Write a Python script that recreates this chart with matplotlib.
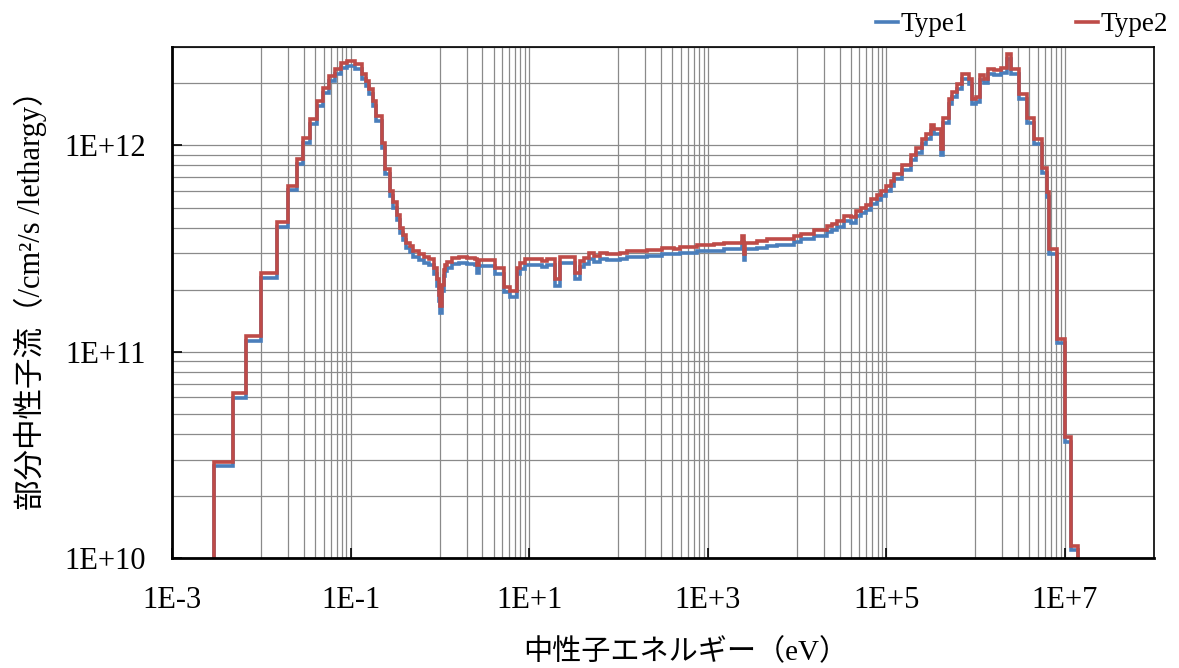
import matplotlib
matplotlib.use("Agg")
import matplotlib.pyplot as plt
from matplotlib.ticker import FixedLocator, FixedFormatter, NullFormatter

plt.rcParams['font.family'] = ['Liberation Serif', 'Noto Sans CJK JP']

# energy group boundaries (eV)
energy_edges = [
    2.0e-3, 2.96e-3, 4.87e-3, 6.76e-3, 1.0e-2, 1.49e-2, 2.0e-2, 2.5e-2, 2.96e-2, 3.52e-2,
    4.26e-2, 4.97e-2, 5.80e-2, 6.72e-2, 7.84e-2, 9.09e-2, 0.1126, 0.1339, 0.1496, 0.1604,
    0.1806, 0.1936, 0.2243, 0.2462, 0.278, 0.298, 0.330, 0.360, 0.389, 0.420,
    0.466, 0.507, 0.577, 0.657, 0.747, 0.850, 0.928, 0.972, 1.01, 1.064,
    1.106, 1.15, 1.21, 1.367, 1.62, 2.01, 2.49, 2.63, 2.77, 4.18,
    5.18, 6.05, 7.31, 7.97, 9.07, 13.95, 15.9, 19.3, 22.4, 32.9,
    36.8, 40.8, 46.5, 52.9, 62.8, 74.7, 105, 125, 210, 309,
    417, 496, 762, 1171, 1515, 2437, 2540, 2654, 3588, 4645,
    6015, 9231, 1.098e4, 1.547e4, 2.186e4, 2.487e4, 2.83e4, 3.357e4, 3.99e4, 4.54e4,
    5.16e4, 5.88e4, 6.69e4, 7.95e4, 8.65e4, 9.85e4, 1.12e5, 1.22e5, 1.515e5, 1.877e5,
    2.136e5, 2.54e5, 2.765e5, 3.146e5, 3.43e5, 4.07e5, 4.37e5, 5.05e5, 5.51e5, 6.27e5,
    7.13e5, 8.46e5, 9.23e5, 1.005e6, 1.123e6, 1.245e6, 1.38e6, 1.612e6, 1.916e6, 2.28e6,
    2.48e6, 3.07e6, 3.82e6, 4.53e6, 5.62e6, 6.28e6, 6.67e6, 8.28e6, 1.0e7, 1.168e7,
    1.41e7, 2.0e7,
]

# flux per lethargy (/cm2/s/lethargy)
type1 = [
    1e9, 2.78e10, 5.96e10, 1.13e11, 2.28e11, 4.03e11, 6.05e11, 8.15e11, 1.023e12, 1.265e12,
    1.551e12, 1.80e12, 2.05e12, 2.23e12, 2.38e12, 2.43e12, 2.34e12, 2.09e12, 1.94e12, 1.77e12,
    1.551e12, 1.312e12, 9.75e11, 7.29e11, 5.67e11, 5.00e11, 4.37e11, 3.76e11, 3.48e11, 3.18e11,
    3.05e11, 2.89e11, 2.78e11, 2.70e11, 2.62e11, 2.38e11, 2.09e11, 1.77e11, 1.54e11, 1.98e11,
    2.34e11, 2.47e11, 2.56e11, 2.67e11, 2.70e11, 2.67e11, 2.62e11, 2.41e11, 2.59e11, 2.38e11,
    1.94e11, 1.835e11, 2.38e11, 2.52e11, 2.62e11, 2.57e11, 2.62e11, 2.09e11, 2.70e11, 2.25e11,
    2.57e11, 2.67e11, 2.82e11, 2.73e11, 2.82e11, 2.79e11, 2.82e11, 2.87e11, 2.90e11, 2.98e11,
    2.96e11, 3.01e11, 3.07e11, 3.09e11, 3.15e11, 3.39e11, 2.78e11, 3.15e11, 3.20e11, 3.27e11,
    3.30e11, 3.39e11, 3.50e11, 3.62e11, 3.80e11, 3.87e11, 4.01e11, 4.29e11, 4.22e11, 4.54e11,
    4.71e11, 4.89e11, 5.21e11, 5.41e11, 5.67e11, 6.00e11, 6.35e11, 6.84e11, 7.56e11, 8.46e11,
    9.22e11, 1.011e12, 1.069e12, 1.18e12, 1.131e12, 8.94e11, 1.289e12, 1.594e12, 1.716e12, 1.87e12,
    2.09e12, 1.98e12, 1.58e12, 1.617e12, 2.07e12, 2.00e12, 2.23e12, 2.19e12, 2.25e12, 2.615e12,
    2.23e12, 1.673e12, 1.289e12, 1.011e12, 7.37e11, 5.61e11, 2.96e11, 1.10e11, 3.67e10, 1.094e10,
    1e9,
]

type2 = [
    1e9, 2.93e10, 6.30e10, 1.196e11, 2.41e11, 4.26e11, 6.39e11, 8.62e11, 1.081e12, 1.337e12,
    1.641e12, 1.906e12, 2.17e12, 2.357e12, 2.52e12, 2.566e12, 2.47e12, 2.21e12, 2.05e12, 1.87e12,
    1.641e12, 1.388e12, 1.031e12, 7.71e11, 6.00e11, 5.29e11, 4.62e11, 4.00e11, 3.70e11, 3.38e11,
    3.25e11, 3.07e11, 2.96e11, 2.88e11, 2.80e11, 2.55e11, 2.24e11, 1.89e11, 1.66e11, 2.11e11,
    2.50e11, 2.64e11, 2.73e11, 2.86e11, 2.88e11, 2.85e11, 2.80e11, 2.62e11, 2.77e11, 2.55e11,
    2.07e11, 1.96e11, 2.55e11, 2.70e11, 2.80e11, 2.74e11, 2.80e11, 2.24e11, 2.88e11, 2.41e11,
    2.74e11, 2.85e11, 3.01e11, 2.92e11, 3.01e11, 2.98e11, 3.01e11, 3.07e11, 3.10e11, 3.19e11,
    3.16e11, 3.22e11, 3.28e11, 3.31e11, 3.37e11, 3.63e11, 2.96e11, 3.37e11, 3.43e11, 3.50e11,
    3.53e11, 3.63e11, 3.74e11, 3.87e11, 4.06e11, 4.14e11, 4.29e11, 4.54e11, 4.51e11, 4.80e11,
    4.98e11, 5.17e11, 5.51e11, 5.72e11, 6.00e11, 6.35e11, 6.71e11, 7.23e11, 8.00e11, 8.94e11,
    9.75e11, 1.069e12, 1.131e12, 1.251e12, 1.196e12, 9.56e11, 1.363e12, 1.686e12, 1.814e12, 1.978e12,
    2.21e12, 2.09e12, 1.673e12, 1.71e12, 2.19e12, 2.11e12, 2.357e12, 2.32e12, 2.38e12, 2.765e12,
    2.357e12, 1.77e12, 1.363e12, 1.069e12, 7.79e11, 5.93e11, 3.13e11, 1.157e11, 3.88e10, 1.144e10,
    1e9,
]

x_ticks = [1e-3, 1e-1, 1e1, 1e3, 1e5, 1e7]
x_ticklabels = ["1E-3", "1E-1", "1E+1", "1E+3", "1E+5", "1E+7"]
y_ticks = [1e10, 1e11, 1e12]
y_ticklabels = ["1E+10", "1E+11", "1E+12"]

fig = plt.figure(figsize=(11.79, 6.68), dpi=100)
ax = fig.add_axes([0.1459, 0.1647, 0.8329, 0.7649])

ax.stairs(type1, energy_edges, baseline=None, color="#4A7EBB", lw=2.6, label="Type1")
ax.stairs(type2, energy_edges, baseline=None, color="#BE4B48", lw=2.6, label="Type2")

ax.set_xscale("log")
ax.set_yscale("log")
ax.set_xlim(1e-3, 1e8)
ax.set_ylim(1e10, 3e12)

# excel style minor grid: 2..9 steps only in the upper decade of each 2-decade major step
x_minor = [k * 10.0 ** m for m in (-2, 0, 2, 4, 6) for k in range(1, 10)]
y_minor = [k * 10.0 ** m for m in (10, 11, 12) for k in range(2, 10)]
ax.xaxis.set_major_locator(FixedLocator(x_ticks))
ax.xaxis.set_major_formatter(FixedFormatter(x_ticklabels))
ax.xaxis.set_minor_locator(FixedLocator(x_minor))
ax.xaxis.set_minor_formatter(NullFormatter())
ax.yaxis.set_major_locator(FixedLocator(y_ticks))
ax.yaxis.set_major_formatter(FixedFormatter(y_ticklabels))
ax.yaxis.set_minor_locator(FixedLocator(y_minor))
ax.yaxis.set_minor_formatter(NullFormatter())

ax.grid(True, which="major", color="#8a8a8a", lw=0.9)
ax.grid(True, which="minor", color="#8a8a8a", lw=0.9)
ax.set_axisbelow(True)

ax.tick_params(which="major", direction="in", length=7, width=1.2, labelsize=22)
ax.tick_params(axis="y", which="major", pad=19)
ax.tick_params(axis="x", which="major", pad=20)
ax.tick_params(which="minor", length=0)
for s in ax.spines.values():
    s.set_color("black")
    s.set_linewidth(1.2)
ax.spines["left"].set_linewidth(2)
ax.spines["bottom"].set_linewidth(2)

ax.set_xlabel("中性子エネルギー（eV）", fontsize=21, va="center")
ax.xaxis.set_label_coords(0.523, -0.185)
ax.set_ylabel("部分中性子流（/cm²/s /lethargy）", fontsize=22, va="center")
ax.yaxis.set_label_coords(-0.1446, 0.52)

fig.legend(loc="upper right", bbox_to_anchor=(1.0045, 1.006), ncol=2, frameon=False,
           fontsize=19.5, handlelength=0.8, handletextpad=0.1, columnspacing=4.0,
           borderaxespad=0.2)

fig.savefig("out.png", dpi=100)
